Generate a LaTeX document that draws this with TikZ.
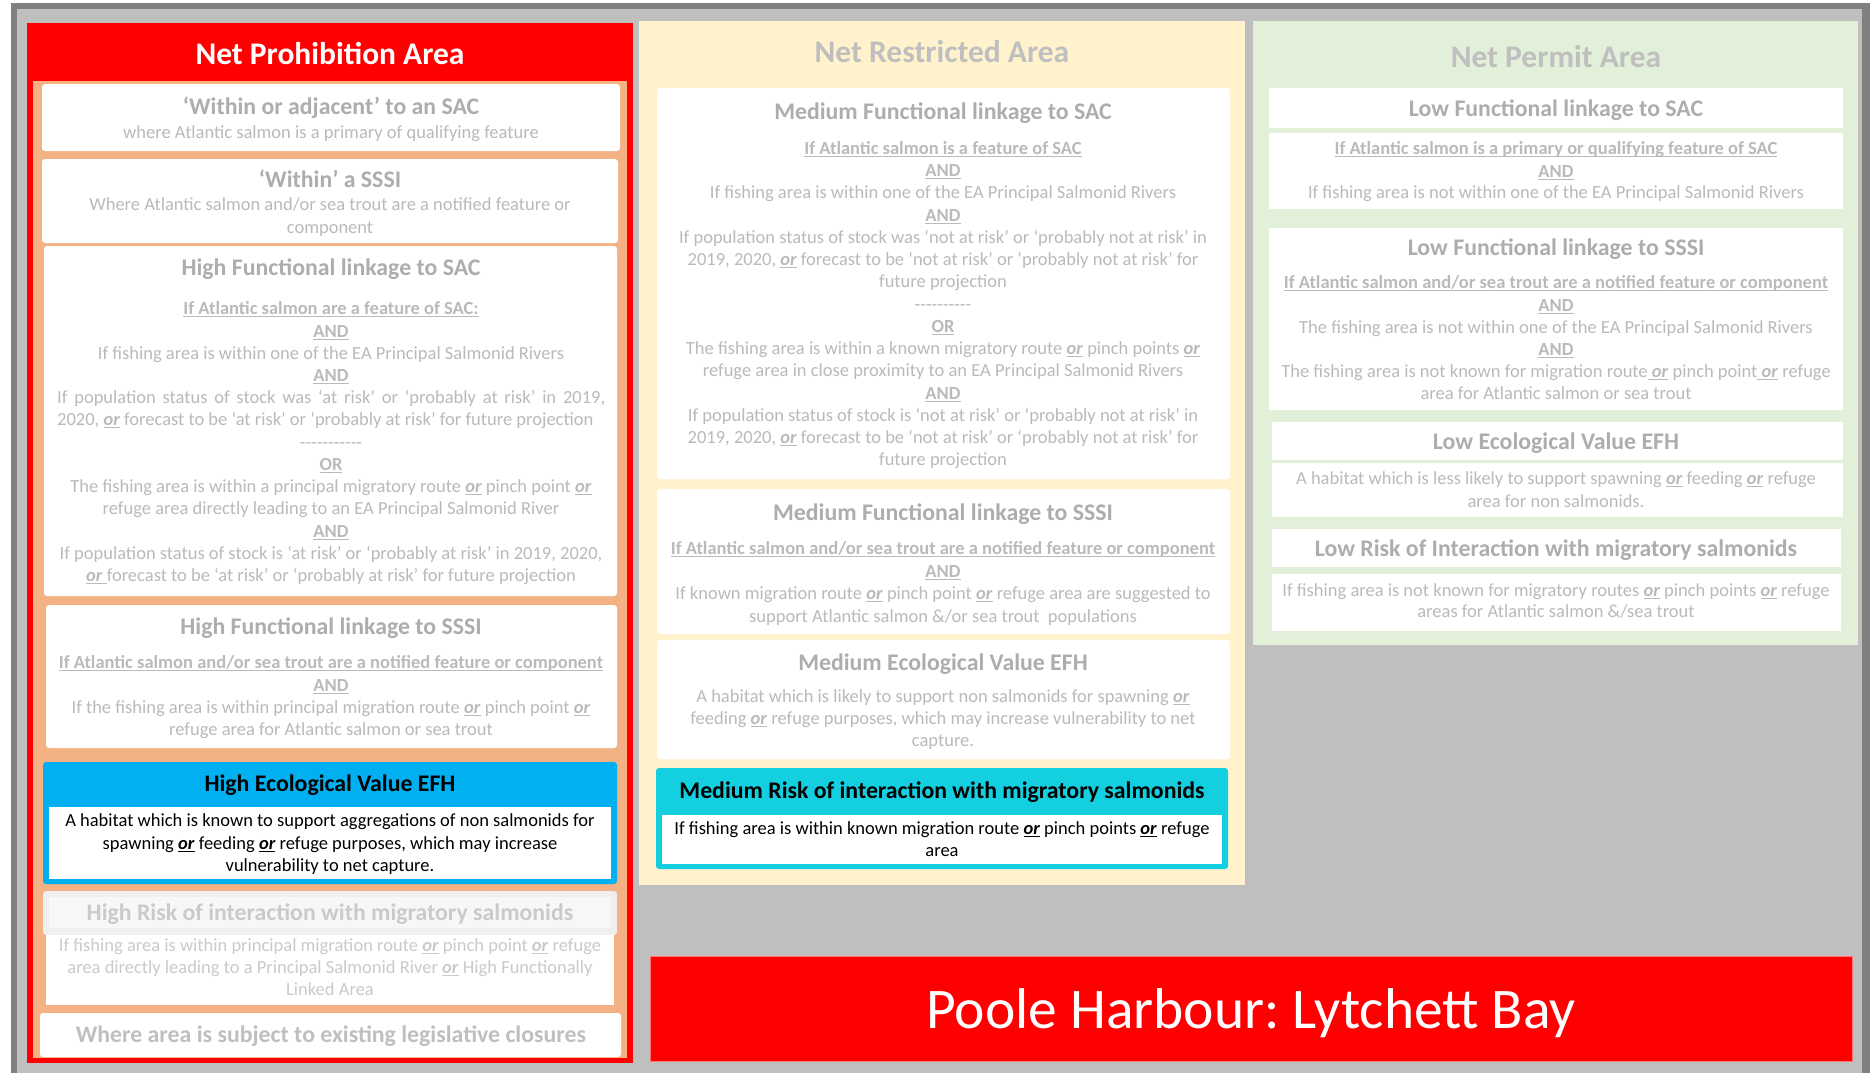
\documentclass[tikz,border=0pt]{standalone}
\usepackage{fontspec}
\setmainfont{Carlito}
\frenchspacing
\definecolor{dgray}{HTML}{7F7F7F}
\definecolor{lgray}{HTML}{BFBFBF}
\definecolor{tgray}{HTML}{ADADAD}
\definecolor{bgray}{HTML}{BABABA}
\definecolor{pgray}{HTML}{CACACA}
\definecolor{salmon}{HTML}{F4B183}
\definecolor{cream}{HTML}{FFF2CC}
\definecolor{pgreen}{HTML}{E2F0D9}
\definecolor{cyanA}{HTML}{00B0F0}
\definecolor{cyanB}{HTML}{14CFDF}
\definecolor{hgray}{HTML}{EFEFEF}
\definecolor{hgrayin}{HTML}{F7F7F7}
\newcommand\ulx[1]{\setbox0\hbox{#1}\rlap{\rule[-2.7pt]{\wd0}{1.1pt}}\box0\relax}
\newcommand\orx{\ulx{\textbf{\textit{or}}}}
\tikzset{
  ptitle/.style={font=\fontsize{31.5}{31.5}\selectfont\bfseries, anchor=base, inner sep=0pt},
  bt/.style={font=\fontsize{23.8}{23.8}\selectfont\bfseries, text=tgray, anchor=base, inner sep=0pt},
  bd/.style={font=\fontsize{18.5}{18.5}\selectfont, text=bgray, anchor=base, inner sep=0pt},
  wbox/.style={fill=white, rounded corners=3pt},
}
\begin{document}
\begin{tikzpicture}[x=1pt,y=-1pt]
\useasboundingbox (0,0) rectangle (1870,1073);
% frame
\fill[white] (0,0) rectangle (1870,1073);
\fill[dgray] (11,3) rectangle (1870,1073);
\fill[lgray] (17,9) rectangle (1862,1073);
% ---------------- LEFT PANEL ----------------
\fill[red] (27,23) rectangle (633,1063);
\fill[salmon] (33,81) rectangle (627,1058);
\node[ptitle, text=white] (lT) at (330,64) {Net Prohibition Area};
% box 1
\fill[wbox] (42,84) rectangle (620,151);
\node[bt] (l1t) at (331,114) {‘Within or adjacent’ to an SAC};
\node[bd] (l1a) at (331,138) {where Atlantic salmon is a primary of qualifying feature};
% box 2
\fill[wbox] (42,159) rectangle (618,243);
\node[bt] (l2t) at (330,187) {‘Within’ a SSSI};
\node[bd] (l2a) at (330,210) {Where Atlantic salmon and/or sea trout are a notified feature or};
\node[bd] (l2b) at (330,233) {component};
% box 3
\fill[wbox] (44,246) rectangle (617,596);
\node[bt] (l3t) at (331,275) {High Functional linkage to SAC};
\node[bd] (l3a) at (331,314) {\ulx{\textbf{If Atlantic salmon are a feature of SAC:}}};
\node[bd] (l3b) at (331,337) {\ulx{\textbf{AND}}};
\node[bd] (l3c) at (331,359) {If fishing area is within one of the EA Principal Salmonid Rivers};
\node[bd] (l3d) at (331,381) {\ulx{\textbf{AND}}};
\node[bd, anchor=base west] (l3e) at (57,403) {\makebox[548pt][s]{If population status of stock was ‘at risk’ or ‘probably at risk’ in 2019,}};
\node[bd, anchor=base west] (l3f) at (57,425) {2020, \orx{} forecast to be ‘at risk’ or ‘probably at risk’ for future projection};
\node[bd] (l3g) at (331,448) {-{}-{}-{}-{}-{}-{}-{}-{}-{}-{}-};
\node[bd] (l3h) at (331,470) {\ulx{\textbf{OR}}};
\node[bd] (l3i) at (331,492) {The fishing area is within a principal migratory route \orx{} pinch point \orx};
\node[bd] (l3j) at (331,514) {refuge area directly leading to an EA Principal Salmonid River};
\node[bd] (l3k) at (331,537) {\ulx{\textbf{AND}}};
\node[bd] (l3l) at (331,559) {If population status of stock is ‘at risk’ or ‘probably at risk’ in 2019, 2020,};
\node[bd] (l3m) at (331,581) {\ulx{\textbf{\textit{or}}\ }forecast to be ‘at risk’ or ‘probably at risk’ for future projection};
% box 4
\fill[wbox] (46,605) rectangle (617,748);
\node[bt] (l4t) at (331,634) {High Functional linkage to SSSI};
\node[bd] (l4a) at (331,668) {\ulx{\textbf{If Atlantic salmon and/or sea trout are a notified feature or component}}};
\node[bd] (l4b) at (331,691) {\ulx{\textbf{AND}}};
\node[bd] (l4c) at (331,713) {If the fishing area is within principal migration route \orx{} pinch point \orx};
\node[bd] (l4d) at (331,735) {refuge area for Atlantic salmon or sea trout};
% box 5
\fill[cyanA, rounded corners=3pt] (43,762) rectangle (617,884);
\fill[white] (49,807) rectangle (611,879);
\node[bt, text=black] (l5t) at (330,791) {High Ecological Value EFH};
\node[bd, text=black] (l5a) at (330,826) {A habitat which is known to support aggregations of non salmonids for};
\node[bd, text=black] (l5b) at (330,849) {spawning \orx{} feeding \orx{} refuge purposes, which may increase};
\node[bd, text=black] (l5c) at (330,871) {vulnerability to net capture.};
% box 6
\fill[hgray, rounded corners=3pt] (43,891) rectangle (617,935);
\fill[hgrayin] (49,897) rectangle (611,928);
\fill[white] (46,935) rectangle (614,1005);
\node[bt, text=pgray] (l6t) at (330,920) {High Risk of interaction with migratory salmonids};
\node[bd, text=pgray] (l6a) at (330,951) {If fishing area is within principal migration route \orx{} pinch point \orx{} refuge};
\node[bd, text=pgray] (l6b) at (330,973) {area directly leading to a Principal Salmonid River \orx{} High Functionally};
\node[bd, text=pgray] (l6c) at (330,995) {Linked Area};
% box 7
\fill[wbox] (40,1013) rectangle (621,1057);
\node[bt, text=lgray] (l7t) at (331,1042) {Where area is subject to existing legislative closures};
% ---------------- MIDDLE PANEL ----------------
\fill[cream] (639,21) rectangle (1245,885);
\node[ptitle, text=lgray] (mT) at (942,63) {Net Restricted Area};
% box 1
\fill[wbox] (657,88) rectangle (1230,479);
\node[bt] (m1t) at (943,119) {Medium Functional linkage to SAC};
\node[bd] (m1a) at (943,154) {\ulx{\textbf{If Atlantic salmon is a feature of SAC}}};
\node[bd] (m1b) at (943,176) {\ulx{\textbf{AND}}};
\node[bd] (m1c) at (943,198) {If fishing area is within one of the EA Principal Salmonid Rivers};
\node[bd] (m1d) at (943,221) {\ulx{\textbf{AND}}};
\node[bd] (m1e) at (943,243) {If population status of stock was ‘not at risk’ or ‘probably not at risk’ in};
\node[bd] (m1f) at (943,265) {2019, 2020, \orx{} forecast to be ‘not at risk’ or ‘probably not at risk’ for};
\node[bd] (m1g) at (943,287) {future projection};
\node[bd] (m1h) at (943,310) {-{}-{}-{}-{}-{}-{}-{}-{}-{}-};
\node[bd] (m1i) at (943,332) {\ulx{\textbf{OR}}};
\node[bd] (m1j) at (943,354) {The fishing area is within a known migratory route \orx{} pinch points \orx};
\node[bd] (m1k) at (943,376) {refuge area in close proximity to an EA Principal Salmonid Rivers};
\node[bd] (m1l) at (943,399) {\ulx{\textbf{AND}}};
\node[bd] (m1m) at (943,421) {If population status of stock is ‘not at risk’ or ‘probably not at risk’ in};
\node[bd] (m1n) at (943,443) {2019, 2020, \orx{} forecast to be ‘not at risk’ or ‘probably not at risk’ for};
\node[bd] (m1o) at (943,465) {future projection};
% box 2
\fill[wbox] (657,489) rectangle (1230,634);
\node[bt] (m2t) at (943,520) {Medium Functional linkage to SSSI};
\node[bd] (m2a) at (943,554) {\ulx{\textbf{If Atlantic salmon and/or sea trout are a notified feature or component}}};
\node[bd] (m2b) at (943,577) {\ulx{\textbf{AND}}};
\node[bd] (m2c) at (943,599) {If known migration route \orx{} pinch point \orx{} refuge area are suggested to};
\node[bd] (m2d) at (943,622) {support Atlantic salmon \&/or sea trout\ \ populations};
% box 3
\fill[wbox] (657,640) rectangle (1230,759);
\node[bt] (m3t) at (943,670) {Medium Ecological Value EFH};
\node[bd] (m3a) at (943,702) {A habitat which is likely to support non salmonids for spawning \orx};
\node[bd] (m3b) at (943,724) {feeding \orx{} refuge purposes, which may increase vulnerability to net};
\node[bd] (m3c) at (943,746) {capture.};
% box 4
\fill[cyanB, rounded corners=3pt] (656,768) rectangle (1228,869);
\fill[white] (662,815) rectangle (1222,864);
\node[bt, text=black] (m4t) at (942,798) {Medium Risk of interaction with migratory salmonids};
\node[bd, text=black] (m4a) at (942,834) {If fishing area is within known migration route \orx{} pinch points \orx{} refuge};
\node[bd, text=black] (m4b) at (942,856) {area};
% ---------------- RIGHT PANEL ----------------
\fill[pgreen] (1253,21) rectangle (1858,645);
\node[ptitle, text=lgray] (rT) at (1556,67) {Net Permit Area};
% box 1
\fill[white] (1269,88) rectangle (1843,128);
\fill[white] (1269,133) rectangle (1843,209);
\node[bt] (r1t) at (1556,116) {Low Functional linkage to SAC};
\node[bd] (r1a) at (1556,154) {\ulx{\textbf{If Atlantic salmon is a primary or qualifying feature of SAC}}};
\node[bd] (r1b) at (1556,177) {\ulx{\textbf{AND}}};
\node[bd] (r1c) at (1556,198) {If fishing area is not within one of the EA Principal Salmonid Rivers};
% box 2
\fill[white] (1269,228) rectangle (1843,410);
\node[bt] (r2t) at (1556,255) {Low Functional linkage to SSSI};
\node[bd] (r2a) at (1556,288) {\ulx{\textbf{If Atlantic salmon and/or sea trout are a notified feature or component}}};
\node[bd] (r2b) at (1556,311) {\ulx{\textbf{AND}}};
\node[bd] (r2c) at (1556,333) {The fishing area is not within one of the EA Principal Salmonid Rivers};
\node[bd] (r2d) at (1556,355) {\ulx{\textbf{AND}}};
\node[bd] (r2e) at (1556,377) {The fishing area is not known for migration route\ulx{\ \textbf{\textit{or}}} pinch point\ulx{\ \textbf{\textit{or}}} refuge};
\node[bd] (r2f) at (1556,399) {area for Atlantic salmon or sea trout};
% box 3
\fill[white] (1272,422) rectangle (1843,460);
\fill[white] (1272,463) rectangle (1843,517);
\node[bt] (r3t) at (1556,449) {Low Ecological Value EFH};
\node[bd] (r3a) at (1556,484) {A habitat which is less likely to support spawning \orx{} feeding \orx{} refuge};
\node[bd] (r3b) at (1556,507) {area for non salmonids.};
% box 4
\fill[white] (1272,529) rectangle (1841,567);
\fill[white] (1272,574) rectangle (1841,631);
\node[bt] (r4t) at (1556,556) {Low Risk of Interaction with migratory salmonids};
\node[bd] (r4a) at (1556,596) {If fishing area is not known for migratory routes \orx{} pinch points \orx{} refuge};
\node[bd] (r4b) at (1556,617) {areas for Atlantic salmon \&/sea trout};
% ---------------- BANNER ----------------
\fill[red, draw=red!55!white, line width=1pt] (650,956) rectangle (1852,1061);
\node[font=\fontsize{57.5}{57.5}\selectfont, text=white, anchor=base, inner sep=0pt] (ban) at (1251,1028) {Poole Harbour: Lytchett Bay};
\end{tikzpicture}
\end{document}
